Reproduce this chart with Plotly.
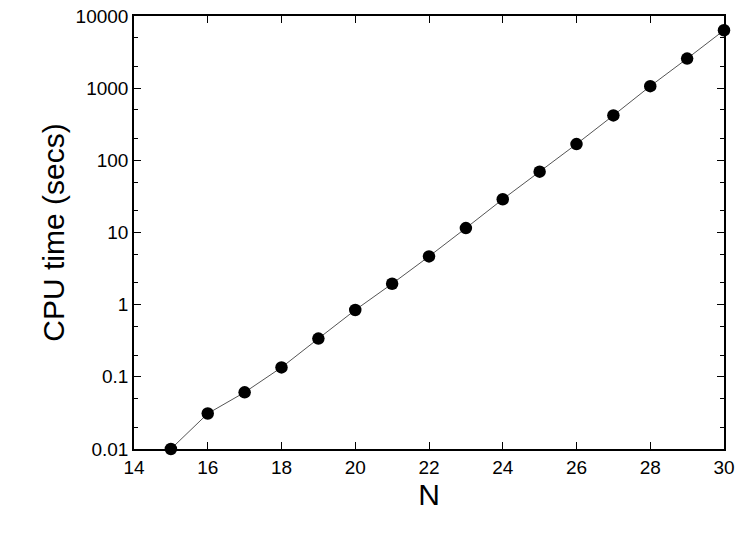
import plotly.graph_objects as go

n_values = [15, 16, 17, 18, 19, 20, 21, 22, 23, 24, 25, 26, 27, 28, 29, 30]
cpu_secs = [0.01, 0.031, 0.061, 0.135, 0.339, 0.843, 1.95, 4.66, 11.5, 28.9, 69.7, 168, 419, 1066, 2570, 6340]

x_ticks = [14, 16, 18, 20, 22, 24, 26, 28, 30]
y_ticks = [0.01, 0.1, 1, 10, 100, 1000, 10000]
y_tick_labels = ["0.01", "0.1", "1", "10", "100", "1000", "10000"]

fig = go.Figure()
fig.add_trace(go.Scatter(
    x=n_values, y=cpu_secs, mode="lines+markers",
    line=dict(color="#555555", width=1),
    marker=dict(color="black", size=12.5),
    cliponaxis=False, showlegend=False,
))

font_family = "Liberation Sans, Arial, sans-serif"
fig.update_layout(
    width=747, height=538,
    margin=dict(l=134, r=23, t=16, b=89),
    plot_bgcolor="white", paper_bgcolor="white",
    font=dict(family=font_family, color="black"),
)
fig.update_xaxes(
    automargin=False,
    range=[14, 30], tickvals=x_ticks, ticks="inside", ticklen=7, tickwidth=1.3,
    tickcolor="black", showline=True, linecolor="black", linewidth=1.5,
    mirror="allticks", showgrid=False, zeroline=False,
    tickfont=dict(size=19),
    title=dict(text="N", font=dict(size=30), standoff=6),
)
fig.update_yaxes(
    automargin=False,
    type="log", range=[-2, 4], tickvals=y_ticks, ticktext=y_tick_labels,
    ticks="inside", ticklen=7, tickwidth=1.3, tickcolor="black",
    showline=True, linecolor="black", linewidth=1.5,
    mirror="allticks", showgrid=False, zeroline=False,
    tickfont=dict(size=19),
    minor=dict(ticks="inside", ticklen=4, tickcolor="black", dtick="D2", showgrid=False),
    title=dict(text="CPU time (secs)", font=dict(size=30), standoff=2),
)

fig.write_html(
    "out.html",
    config={"displayModeBar": False},
    post_script="document.body.style.margin='0';document.body.style.overflow='hidden';",
)
